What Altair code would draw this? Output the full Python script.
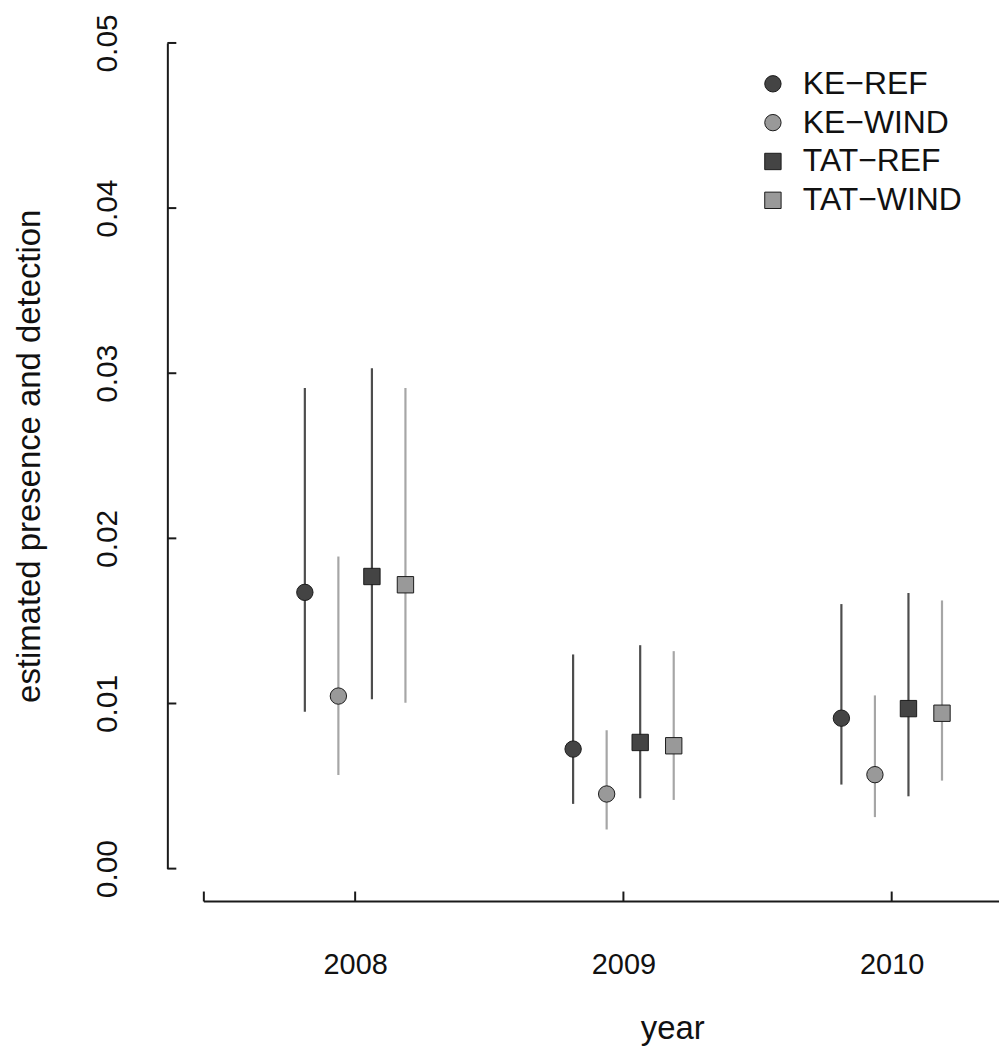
import altair as alt
import pandas as pd

YEARS = [2008, 2009, 2010]
SERIES = ["KE−REF", "KE−WIND", "TAT−REF", "TAT−WIND"]
TONES = ["dark", "light", "dark", "light"]
DODGE = [-0.1875, -0.0625, 0.0625, 0.1875]

KE_REF_EST = [0.01673, 0.00724, 0.00911]
KE_REF_LO = [0.00950, 0.00392, 0.00509]
KE_REF_HI = [0.02910, 0.01297, 0.01602]

KE_WIND_EST = [0.01045, 0.00452, 0.00569]
KE_WIND_LO = [0.00567, 0.00237, 0.00312]
KE_WIND_HI = [0.01890, 0.00838, 0.01049]

TAT_REF_EST = [0.01769, 0.00764, 0.00969]
TAT_REF_LO = [0.01025, 0.00426, 0.00438]
TAT_REF_HI = [0.03030, 0.01353, 0.01669]

TAT_WIND_EST = [0.01719, 0.00744, 0.00941]
TAT_WIND_LO = [0.01005, 0.00416, 0.00533]
TAT_WIND_HI = [0.02910, 0.01317, 0.01624]

Y_TICKS = [0.0, 0.01, 0.02, 0.03, 0.04, 0.05]

FILLS = ["#444444", "#999999", "#444444", "#999999"]
SHAPES = ["circle", "circle", "square", "square"]
BAR_TONE_COLORS = ["#4d4d4d", "#a6a6a6"]

X_MIN, X_MAX = 2007.30, 2010.40
X_LINE_START = 2007.436

W, H = 835, 829
FONT = "Liberation Sans"

est = [KE_REF_EST, KE_WIND_EST, TAT_REF_EST, TAT_WIND_EST]
lo = [KE_REF_LO, KE_WIND_LO, TAT_REF_LO, TAT_WIND_LO]
hi = [KE_REF_HI, KE_WIND_HI, TAT_REF_HI, TAT_WIND_HI]

rows = []
for i, s in enumerate(SERIES):
    for j, yr in enumerate(YEARS):
        rows.append({"label": s, "tone": TONES[i], "x": yr + DODGE[i],
                     "est": est[i][j], "lo": lo[i][j], "hi": hi[i][j]})
df = pd.DataFrame(rows)

x_scale = alt.Scale(domain=[X_MIN, X_MAX], nice=False, zero=False)
y_scale = alt.Scale(domain=[0, 0.05], nice=False, zero=False)

legend = alt.Legend(
    title=None, orient="none", legendX=592, legendY=25, padding=0,
    labelFontSize=32, labelFont=FONT, labelColor="#111111",
    symbolSize=270, symbolStrokeColor="#1a1a1a", symbolStrokeWidth=1,
    labelOffset=14, rowPadding=7,
)

x_axis = alt.Axis(
    values=YEARS, format="d", domain=False, ticks=False, tickSize=0, tickOpacity=0,
    grid=False,
    labelPadding=105, labelBaseline="alphabetic", labelFontSize=29, labelFont=FONT,
    labelColor="#111111", labelFlush=False,
    title="year", titleFont=FONT, titleFontSize=33, titleFontWeight="normal",
    titleColor="#111111", titleX=507, titleY=171, titleAlign="center",
    titleBaseline="alphabetic",
)
y_axis = alt.Axis(
    values=Y_TICKS, format=".2f", domain=True, domainColor="#1a1a1a", domainWidth=2,
    ticks=False, tickSize=0, tickOpacity=0, grid=False,
    labelAngle=270, labelAlign="center", labelBaseline="alphabetic", labelPadding=51,
    labelFontSize=30, labelFont=FONT, labelColor="#111111", labelFlush=False,
    title="estimated presence and detection", titleFont=FONT, titleFontSize=33,
    titleFontWeight="normal", titleColor="#111111", titleAngle=270,
    titleX=-128, titleY=H / 2, titleAlign="center", titleBaseline="alphabetic",
)

bars = alt.Chart(df).mark_rule(strokeWidth=2.2).encode(
    x=alt.X("x:Q", scale=x_scale, axis=x_axis),
    y=alt.Y("lo:Q", scale=y_scale, axis=y_axis),
    y2="hi:Q",
    stroke=alt.Stroke("tone:N", scale=alt.Scale(domain=["dark", "light"], range=BAR_TONE_COLORS),
                      legend=None),
)

points = alt.Chart(df).mark_point(filled=True, size=270, stroke="#1a1a1a",
                                  strokeWidth=1, opacity=1).encode(
    x=alt.X("x:Q", scale=x_scale, axis=x_axis),
    y=alt.Y("est:Q", scale=y_scale, axis=y_axis),
    color=alt.Color("label:N", scale=alt.Scale(domain=SERIES, range=FILLS), legend=legend),
    shape=alt.Shape("label:N", scale=alt.Scale(domain=SERIES, range=SHAPES), legend=legend),
)

ytick_df = pd.DataFrame({"v": Y_TICKS})
yticks = alt.Chart(ytick_df).mark_rule(color="#1a1a1a", strokeWidth=2).encode(
    y=alt.Y("v:Q", scale=y_scale, axis=y_axis), x=alt.value(0), x2=alt.value(9)
)

xline_df = pd.DataFrame({"s": [X_LINE_START]})
xline = alt.Chart(xline_df).mark_rule(color="#1a1a1a", strokeWidth=2).encode(
    x=alt.X("s:Q", scale=x_scale, axis=x_axis), x2=alt.value(W), y=alt.value(H + 33)
)

xtick_df = pd.DataFrame({"yr": [X_LINE_START] + YEARS})
xticks = alt.Chart(xtick_df).mark_rule(color="#1a1a1a", strokeWidth=2).encode(
    x=alt.X("yr:Q", scale=x_scale, axis=x_axis), y=alt.value(H + 23), y2=alt.value(H + 33)
)

chart = alt.layer(bars, points, yticks, xline, xticks).properties(
    width=W, height=H,
    autosize=alt.AutoSizeParams(type="none"),
    padding={"left": 160, "top": 33, "right": 0, "bottom": 178},
    background="white",
).configure(font=FONT).configure_view(stroke=None)

chart.save("out.html", embed_options={"renderer": "svg", "actions": False})
